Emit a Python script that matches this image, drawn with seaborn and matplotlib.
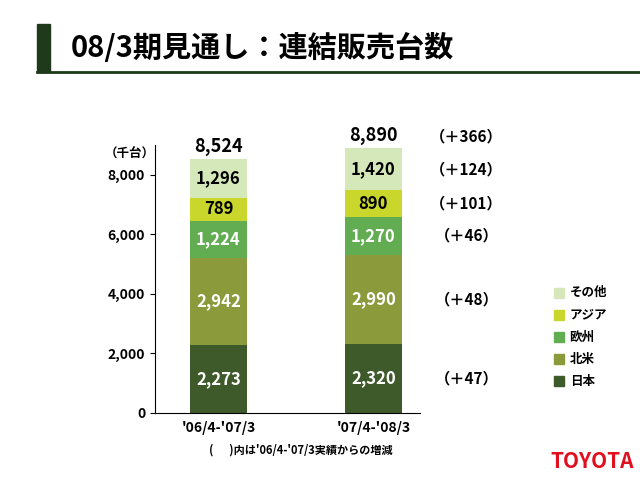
import numpy as np
import pandas as pd
import matplotlib
matplotlib.use("Agg")
import matplotlib.pyplot as plt
import seaborn as sns

plt.rcParams["font.family"] = ["Noto Sans CJK JP", "DejaVu Sans"]

periods = ["'06/4-'07/3", "'07/4-'08/3"]
regions = ["日本", "北米", "欧州", "アジア", "その他"]
japan = [2273, 2320]
north_america = [2942, 2990]
europe = [1224, 1270]
asia = [789, 890]
other = [1296, 1420]
totals = [8524, 8890]
increments = ["（＋47）", "（＋48）", "（＋46）", "（＋101）", "（＋124）"]
total_increment = "（＋366）"
colors = ["#3e5a2a", "#8b9a3a", "#62ac52", "#c9d62c", "#d5e8b9"]
text_colors = ["white", "white", "white", "black", "black"]

series = [japan, north_america, europe, asia, other]

fig = plt.figure(figsize=(6.4, 4.8), dpi=100)
ax = fig.add_axes([0.242, 0.14, 0.414, 0.558])

bottom = np.zeros(len(periods))
for name, vals, col, tc in zip(regions, series, colors, text_colors):
    df = pd.DataFrame({"period": periods, "value": vals})
    sns.barplot(data=df, x="period", y="value", bottom=bottom, color=col,
                width=0.37, ax=ax, saturation=1, edgecolor="none")
    for i, v in enumerate(vals):
        ax.text(i, bottom[i] + v / 2, f"{v:,}", ha="center", va="center",
                color=tc, fontsize=12, fontweight="bold")
    bottom += np.array(vals)

for i, t in enumerate(totals):
    ax.text(i, t + 120, f"{t:,}", ha="center", va="bottom", fontsize=13,
            fontweight="bold")

# increments column
mids = np.array([0.0] + list(np.cumsum([s[1] for s in series])))
for k, inc in enumerate(increments):
    ax.text(1.6, (mids[k] + mids[k + 1]) / 2, inc, ha="center", va="center",
            fontsize=11, fontweight="bold", clip_on=False)
ax.text(1.6, totals[1] + 380, total_increment, ha="center", va="center",
        fontsize=11, fontweight="bold", clip_on=False)

ax.set_xlim(-0.41, 1.3)
ax.set_ylim(0, 9000)
ax.set_yticks([0, 2000, 4000, 6000, 8000])
ax.set_yticklabels(["0", "2,000", "4,000", "6,000", "8,000"], fontweight="bold")
ax.tick_params(axis="x", length=0, labelsize=10, pad=6)
for lab in ax.get_xticklabels():
    lab.set_fontweight("bold")
ax.tick_params(axis="y", labelsize=10)
ax.set_xlabel("")
ax.set_ylabel("")
sns.despine(ax=ax)
ax.text(-0.41, 8700, "（千台）", ha="right", va="center", fontsize=9,
        fontweight="bold", transform=ax.transData)

# title
fig.patches.append(plt.Rectangle((0.058, 0.85), 0.02, 0.1, transform=fig.transFigure,
                                 color="#1f3a1a"))
fig.lines.append(plt.Line2D([0.058, 1.0], [0.85, 0.85], transform=fig.transFigure,
                            color="#1f3a1a", lw=2))
fig.text(0.11, 0.9, "08/3期見通し：連結販売台数", fontsize=21, fontweight="bold",
         va="center")

# legend
for k in range(len(regions)):
    y = 0.206 + k * 0.046
    fig.patches.append(plt.Rectangle((0.865, y - 0.011), 0.016, 0.022,
                                     transform=fig.transFigure, color=colors[k]))
    fig.text(0.89, y, regions[k], fontsize=9, fontweight="bold", va="center")

fig.text(0.47, 0.055, "(　  )内は'06/4-'07/3実績からの増減", fontsize=8,
         fontweight="bold", ha="center")
fig.text(0.99, 0.025, "TOYOTA", fontsize=15, fontweight="bold", color="#e0101e",
         ha="right")

fig.savefig("out.png", dpi=100)
